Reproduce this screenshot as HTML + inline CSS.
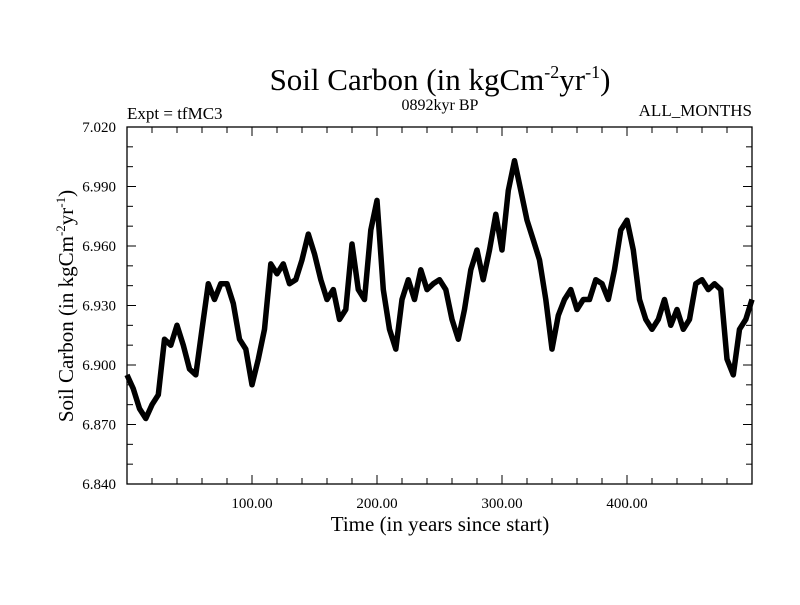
<!DOCTYPE html>
<html><head><meta charset="utf-8"><style>
html,body{margin:0;padding:0;background:#fff;}
svg text{font-family:"Liberation Serif",serif;fill:#000;}
</style></head><body>
<svg id="chart" width="800" height="600" xmlns="http://www.w3.org/2000/svg">
<text x="440" y="90" font-size="31" text-anchor="middle">Soil Carbon (in kgCm<tspan font-size="18" dy="-12">-2</tspan><tspan dy="12">yr</tspan><tspan font-size="18" dy="-12">-1</tspan><tspan dy="12">)</tspan></text>
<text x="127" y="119" font-size="17">Expt = tfMC3</text>
<text x="440" y="110" font-size="16" text-anchor="middle">0892kyr BP</text>
<text x="752" y="116" font-size="17" text-anchor="end">ALL_MONTHS</text>
<text x="440" y="531" font-size="21" text-anchor="middle">Time (in years since start)</text>
<text transform="translate(73,306) rotate(-90)" font-size="21" text-anchor="middle">Soil Carbon (in kgCm<tspan font-size="13" dy="-8">-2</tspan><tspan dy="8">yr</tspan><tspan font-size="13" dy="-8">-1</tspan><tspan dy="8">)</tspan></text>
<g id="axes"></g>
<g id="series"></g>
</svg>
<script>
const years = [0,5,10,15,20,25,30,35,40,45,50,55,60,65,70,75,80,85,90,95,100,105,110,115,120,125,130,135,140,145,150,155,160,165,170,175,180,185,190,195,200,205,210,215,220,225,230,235,240,245,250,255,260,265,270,275,280,285,290,295,300,305,310,315,320,325,330,335,340,345,350,355,360,365,370,375,380,385,390,395,400,405,410,415,420,425,430,435,440,445,450,455,460,465,470,475,480,485,490,495,500];
const soilCarbon = [6.895,6.888,6.878,6.873,6.880,6.885,6.913,6.910,6.920,6.910,6.898,6.895,6.918,6.941,6.933,6.941,6.941,6.931,6.913,6.908,6.890,6.903,6.918,6.951,6.946,6.951,6.941,6.943,6.953,6.966,6.956,6.943,6.933,6.938,6.923,6.928,6.961,6.938,6.933,6.968,6.983,6.938,6.918,6.908,6.933,6.943,6.933,6.948,6.938,6.941,6.943,6.938,6.923,6.913,6.928,6.948,6.958,6.943,6.958,6.976,6.958,6.988,7.003,6.988,6.973,6.963,6.953,6.933,6.908,6.925,6.933,6.938,6.928,6.933,6.933,6.943,6.941,6.933,6.948,6.968,6.973,6.958,6.933,6.923,6.918,6.923,6.933,6.920,6.928,6.918,6.923,6.941,6.943,6.938,6.941,6.938,6.903,6.895,6.918,6.923,6.933];
const xTicks = [100,200,300,400];
const xTickLabels = ["100.00","200.00","300.00","400.00"];
const yTicks = [6.840,6.870,6.900,6.930,6.960,6.990,7.020];
const yTickLabels = ["6.840","6.870","6.900","6.930","6.960","6.990","7.020"];
const X0=127,X1=752,Y0=484,Y1=127,xmin=0,xmax=500,ymin=6.84,ymax=7.02;
const xs=v=>X0+(v-xmin)/(xmax-xmin)*(X1-X0);
const ys=v=>Y0-(v-ymin)/(ymax-ymin)*(Y0-Y1);
const NS="http://www.w3.org/2000/svg";
const axes=document.getElementById('axes');
function mk(tag,attrs,parent){const e=document.createElementNS(NS,tag);for(const k in attrs)e.setAttribute(k,attrs[k]);parent.appendChild(e);return e;}
const frame=mk('rect',{x:X0,y:Y1,width:X1-X0,height:Y0-Y1,fill:'none',stroke:'#000','stroke-width':1.3},axes);


for(let v=20;v<500;v+=20){const x=xs(v);const L=(v%100===0)?9:6;
 mk('line',{x1:x,y1:Y0,x2:x,y2:Y0-L,stroke:'#000'},axes);
 mk('line',{x1:x,y1:Y1,x2:x,y2:Y1+L,stroke:'#000'},axes);}
for(let i=0;i<=18;i++){const v=ymin+i*0.01;const y=ys(v);const L=(i%3===0)?9:6;
 mk('line',{x1:X0,y1:y,x2:X0+L,y2:y,stroke:'#000'},axes);
 mk('line',{x1:X1,y1:y,x2:X1-L,y2:y,stroke:'#000'},axes);}
xTicks.forEach((v,i)=>{const t=mk('text',{x:xs(v),y:508,'font-size':15,'text-anchor':'middle'},axes);t.textContent=xTickLabels[i];
 
 });
yTicks.forEach((v,i)=>{const t=mk('text',{x:116,y:ys(v)+5,'font-size':15,'text-anchor':'end'},axes);t.textContent=yTickLabels[i];
 
 });
const pts=years.map((y,i)=>xs(y).toFixed(1)+','+ys(soilCarbon[i]).toFixed(1)).join(' ');
const line=mk('polyline',{points:pts,fill:'none',stroke:'#000','stroke-width':5.5,'stroke-linejoin':'round'},document.getElementById('series'));


</script>
</body></html>
